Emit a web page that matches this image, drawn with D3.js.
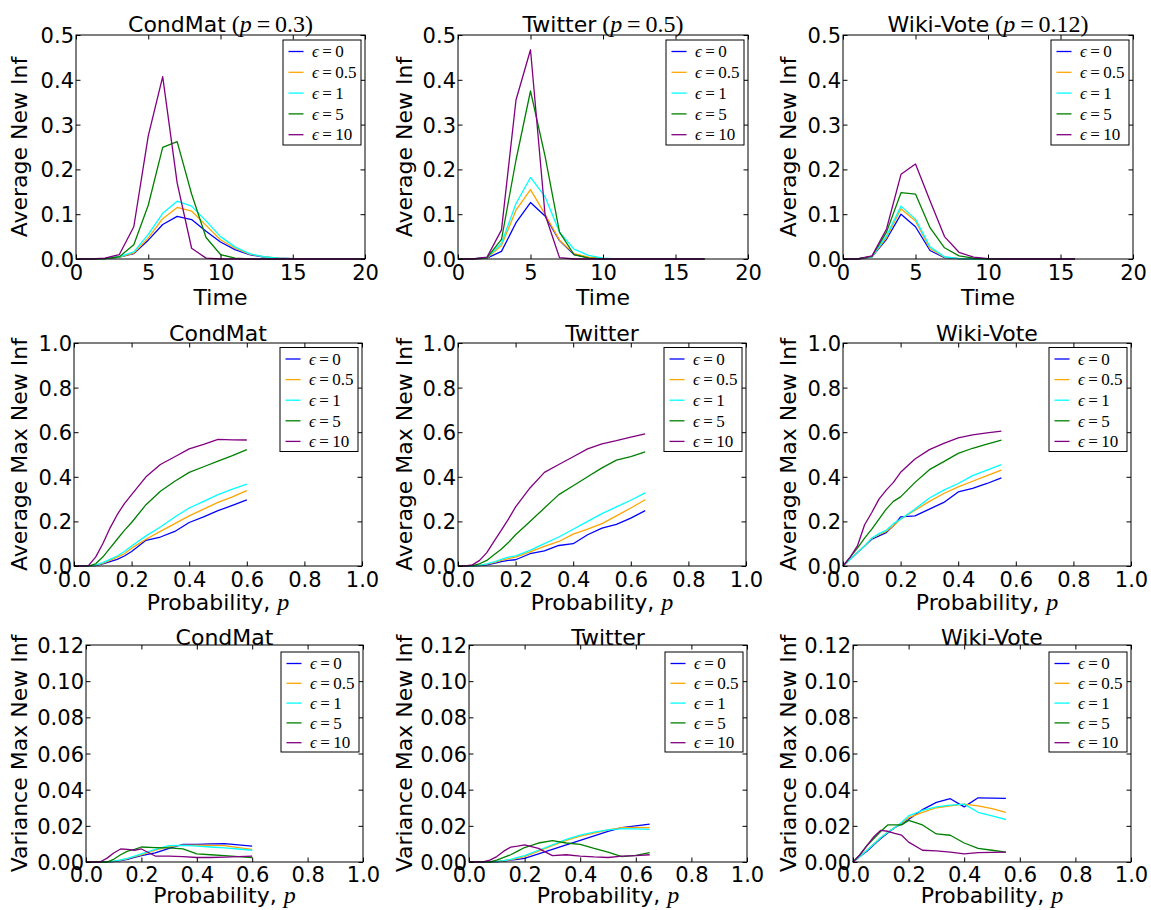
<!DOCTYPE html>
<html>
<head>
<meta charset="utf-8">
<script src="https://cdn.jsdelivr.net/npm/d3@7"></script>
<style>
  body { margin: 0; background: #fff; }
  svg { display: block; font-family: "DejaVu Sans", sans-serif; }
</style>
</head>
<body>
<svg id="chart" width="1151" height="910"></svg>
<script>
// ---------- data ----------
var epsLabels = ["0", "0.5", "1", "5", "10"];
var colours = ["#0000ff", "#ffa500", "#00ffff", "#008000", "#800080"];

var timeTicks = [0, 5, 10, 15, 20];
var probTicks = [0, 0.2, 0.4, 0.6, 0.8, 1.0];
var avgTicks = [0, 0.1, 0.2, 0.3, 0.4, 0.5];
var maxTicks = [0, 0.2, 0.4, 0.6, 0.8, 1.0];
var varTicks = [0, 0.02, 0.04, 0.06, 0.08, 0.10, 0.12];

// time steps for the first row
var timeCondMat = [0,1,2,3,4,5,6,7,8,9,10,11,12,13,14,15,16,17,18,19,20];
var timeTwitter = [0,1,2,3,4,5,6,7,8,9,10,11,12,13,14,15,16,17];
var timeWiki    = [0,1,2,3,4,5,6,7,8,9,10,11,12,13,14,15,16];

// probability grids for rows 2 and 3
var probCondMat = [0,0.025,0.05,0.075,0.1,0.125,0.15,0.175,0.2,0.25,0.3,0.35,0.4,0.45,0.5,0.55,0.6];
var probTwitter = [0,0.025,0.05,0.075,0.1,0.125,0.15,0.175,0.2,0.25,0.3,0.35,0.4,0.45,0.5,0.55,0.6,0.65];
var probWiki    = [0,0.025,0.05,0.075,0.1,0.125,0.15,0.175,0.2,0.25,0.3,0.35,0.4,0.45,0.5,0.55];

// average new infections over time (eps = 0, 0.5, 1, 5, 10)
var condMatNewInf = [
  [0,0,0.001,0.004,0.012,0.042,0.077,0.095,0.088,0.062,0.038,0.021,0.010,0.004,0.002,0.001,0,0,0,0,0],
  [0,0,0.001,0.004,0.013,0.047,0.090,0.115,0.107,0.075,0.043,0.024,0.011,0.005,0.002,0.001,0,0,0,0,0],
  [0,0,0.001,0.005,0.016,0.055,0.102,0.129,0.118,0.085,0.050,0.027,0.012,0.005,0.002,0.001,0,0,0,0,0],
  [0,0,0.001,0.005,0.032,0.120,0.249,0.262,0.145,0.048,0.010,0.002,0,0,0,0,0,0,0,0,0],
  [0,0,0.002,0.010,0.072,0.275,0.407,0.170,0.024,0.002,0,0,0,0,0,0,0,0,0,0,0]
];
var twitterNewInf = [
  [0,0,0.002,0.017,0.081,0.126,0.096,0.041,0.010,0.003,0.001,0,0,0,0,0,0,0],
  [0,0,0.002,0.030,0.109,0.155,0.100,0.042,0.012,0.004,0.001,0,0,0,0,0,0,0],
  [0,0,0.003,0.035,0.124,0.182,0.139,0.060,0.022,0.008,0.002,0,0,0,0,0,0,0],
  [0,0,0.003,0.044,0.221,0.375,0.230,0.060,0.010,0.002,0,0,0,0,0,0,0,0],
  [0,0,0.004,0.065,0.355,0.467,0.100,0.003,0,0,0,0,0,0,0,0,0,0]
];
var wikiNewInf = [
  [0,0,0.005,0.044,0.100,0.072,0.019,0.003,0.001,0,0,0,0,0,0,0,0],
  [0,0,0.005,0.048,0.112,0.085,0.023,0.004,0.001,0,0,0,0,0,0,0,0],
  [0,0,0.005,0.052,0.118,0.089,0.027,0.005,0.001,0,0,0,0,0,0,0,0],
  [0,0,0.006,0.060,0.148,0.145,0.070,0.025,0.007,0.002,0,0,0,0,0,0,0],
  [0,0,0.007,0.067,0.189,0.212,0.130,0.050,0.015,0.004,0.001,0,0,0,0,0,0]
];

// average max new infections vs p
var condMatMax = [
  [0,0,0,0.002,0.010,0.020,0.030,0.045,0.065,0.115,0.130,0.155,0.195,0.220,0.248,0.272,0.297],
  [0,0,0,0.003,0.012,0.025,0.040,0.055,0.080,0.120,0.155,0.190,0.225,0.255,0.285,0.310,0.338],
  [0,0,0,0.004,0.015,0.030,0.045,0.065,0.090,0.135,0.175,0.220,0.260,0.290,0.320,0.345,0.367],
  [0,0,0,0.010,0.040,0.080,0.120,0.160,0.195,0.275,0.335,0.380,0.420,0.445,0.470,0.495,0.522],
  [0,0,0.002,0.040,0.100,0.170,0.230,0.280,0.320,0.400,0.455,0.490,0.525,0.545,0.568,0.566,0.565]
];
var twitterMax = [
  [0,0,0,0.002,0.005,0.012,0.020,0.025,0.028,0.055,0.068,0.092,0.100,0.140,0.170,0.187,0.215,0.248],
  [0,0,0,0.003,0.008,0.015,0.025,0.033,0.040,0.063,0.088,0.110,0.143,0.165,0.190,0.225,0.260,0.297],
  [0,0,0,0.003,0.010,0.018,0.030,0.040,0.045,0.070,0.100,0.130,0.165,0.200,0.235,0.265,0.295,0.328],
  [0,0,0.002,0.010,0.025,0.050,0.075,0.105,0.140,0.200,0.260,0.320,0.360,0.400,0.440,0.475,0.490,0.512],
  [0,0,0.005,0.025,0.060,0.110,0.160,0.210,0.265,0.350,0.420,0.455,0.490,0.525,0.548,0.562,0.578,0.593]
];
var wikiMax = [
  [0,0.030,0.060,0.090,0.120,0.135,0.150,0.180,0.220,0.225,0.255,0.285,0.332,0.348,0.370,0.395],
  [0,0.030,0.060,0.090,0.125,0.140,0.155,0.180,0.210,0.250,0.290,0.325,0.355,0.380,0.405,0.430],
  [0,0.030,0.060,0.090,0.125,0.145,0.160,0.190,0.210,0.255,0.305,0.340,0.370,0.405,0.430,0.455],
  [0,0.040,0.080,0.125,0.165,0.210,0.255,0.290,0.310,0.375,0.432,0.468,0.505,0.528,0.547,0.565],
  [0,0.040,0.090,0.185,0.240,0.300,0.340,0.375,0.420,0.480,0.522,0.550,0.575,0.588,0.597,0.605]
];

// variance of max new infections vs p
var condMatVar = [
  [0,0,0,0,0.0002,0.0008,0.0015,0.0025,0.0035,0.0050,0.0075,0.0098,0.0098,0.0100,0.0102,0.0095,0.0088],
  [0,0,0,0,0.0003,0.0010,0.0018,0.0030,0.0040,0.0065,0.0085,0.0093,0.0093,0.0092,0.0090,0.0080,0.0070],
  [0,0,0,0,0.0005,0.0012,0.0020,0.0032,0.0045,0.0070,0.0090,0.0092,0.0088,0.0083,0.0078,0.0072,0.0065],
  [0,0,0,0,0.0015,0.0040,0.0060,0.0070,0.0083,0.0080,0.0078,0.0073,0.0045,0.0040,0.0035,0.0030,0.0025],
  [0,0,0,0.0020,0.0050,0.0072,0.0070,0.0065,0.0072,0.0033,0.0033,0.0030,0.0025,0.0025,0.0027,0.0030,0.0033]
];
var twitterVar = [
  [0,0,0,0,0.0001,0.0005,0.0010,0.0015,0.0020,0.0045,0.0070,0.0095,0.0120,0.0145,0.0170,0.0190,0.0200,0.0210],
  [0,0,0,0,0.0002,0.0007,0.0012,0.0020,0.0030,0.0060,0.0090,0.0120,0.0143,0.0160,0.0178,0.0190,0.0192,0.0190],
  [0,0,0,0,0.0003,0.0008,0.0015,0.0025,0.0035,0.0065,0.0095,0.0125,0.0148,0.0165,0.0178,0.0185,0.0183,0.0180],
  [0,0,0,0,0.0010,0.0025,0.0040,0.0060,0.0080,0.0105,0.0118,0.0105,0.0098,0.0075,0.0055,0.0030,0.0037,0.0052],
  [0,0,0,0.0010,0.0030,0.0060,0.0082,0.0088,0.0095,0.0075,0.0035,0.0040,0.0033,0.0028,0.0025,0.0033,0.0035,0.0040]
];
var wikiVar = [
  [0,0.0030,0.0060,0.0095,0.0130,0.0160,0.0190,0.0210,0.0235,0.0290,0.0330,0.0350,0.0305,0.0355,0.0353,0.0352],
  [0,0.0030,0.0065,0.0100,0.0135,0.0165,0.0190,0.0215,0.0245,0.0275,0.0300,0.0310,0.0320,0.0310,0.0295,0.0275],
  [0,0.0030,0.0065,0.0100,0.0135,0.0165,0.0190,0.0220,0.0255,0.0285,0.0305,0.0315,0.0320,0.0275,0.0255,0.0235],
  [0,0.0040,0.0090,0.0130,0.0170,0.0205,0.0205,0.0205,0.0230,0.0205,0.0155,0.0148,0.0105,0.0075,0.0065,0.0055],
  [0,0.0040,0.0090,0.0140,0.0175,0.0170,0.0158,0.0148,0.0110,0.0065,0.0062,0.0055,0.0045,0.0052,0.0053,0.0055]
];

// ---------- layout ----------
var rows = [
  {top: 35, bottom: 259, lefts: [76, 458, 843], rights: [365, 748, 1133],
   xDomain: [0, 20], xTicks: timeTicks, xFmt: d3.format("d"),
   yDomain: [0, 0.5], yTicks: avgTicks, yFmt: d3.format(".1f"),
   yLabel: "Average New Inf", xLabel: "Time", xMath: null,
   titleGap: 3, tickGap: 21, xLabelGap: 45.5, legTop: 5, legSpacing: 20.8},
  {top: 343, bottom: 566, lefts: [74, 458, 843], rights: [362, 746, 1131],
   xDomain: [0, 1], xTicks: probTicks, xFmt: d3.format(".1f"),
   yDomain: [0, 1], yTicks: maxTicks, yFmt: d3.format(".1f"),
   yLabel: "Average Max New Inf", xLabel: "Probability, ", xMath: "p",
   titleGap: 2.5, tickGap: 20.5, xLabelGap: 43.5, legTop: 4.5, legSpacing: 20.6},
  {top: 645, bottom: 862, lefts: [86, 469, 853], rights: [363, 747, 1131],
   xDomain: [0, 1], xTicks: probTicks, xFmt: d3.format(".1f"),
   yDomain: [0, 0.12], yTicks: varTicks, yFmt: d3.format(".2f"),
   yLabel: "Variance Max New Inf", xLabel: "Probability, ", xMath: "p",
   titleGap: 0.5, tickGap: 20, xLabelGap: 40.5, legTop: 7, legSpacing: 19.8}
];
var yLabelX = [27, 412, 796];

var panels = [
  {row: 0, col: 0, name: "CondMat",   param: "0.3",  xs: timeCondMat, series: condMatNewInf},
  {row: 0, col: 1, name: "Twitter",   param: "0.5",  xs: timeTwitter, series: twitterNewInf},
  {row: 0, col: 2, name: "Wiki-Vote", param: "0.12", xs: timeWiki,    series: wikiNewInf},
  {row: 1, col: 0, name: "CondMat",   param: null,   xs: probCondMat, series: condMatMax},
  {row: 1, col: 1, name: "Twitter",   param: null,   xs: probTwitter, series: twitterMax},
  {row: 1, col: 2, name: "Wiki-Vote", param: null,   xs: probWiki,    series: wikiMax},
  {row: 2, col: 0, name: "CondMat",   param: null,   xs: probCondMat, series: condMatVar},
  {row: 2, col: 1, name: "Twitter",   param: null,   xs: probTwitter, series: twitterVar},
  {row: 2, col: 2, name: "Wiki-Vote", param: null,   xs: probWiki,    series: wikiVar}
];

var svg = d3.select("#chart");
var serif = "'Liberation Serif', 'DejaVu Serif', serif";
var tickLen = 4.5;

panels.forEach(function(p) {
  var r = rows[p.row];
  var left = r.lefts[p.col], right = r.rights[p.col];
  var w = right - left, h = r.bottom - r.top;

  var x = d3.scaleLinear().domain(r.xDomain).range([0, w]),
      y = d3.scaleLinear().domain(r.yDomain).range([h, 0]);

  var g = svg.append("g")
      .attr("transform", "translate(" + left + "," + r.top + ")");

  // lines
  var line = d3.line()
      .x(function(d, i) { return x(p.xs[i]); })
      .y(function(d) { return y(d); });

  g.selectAll(".series")
    .data(p.series)
    .enter().append("path")
      .attr("fill", "none")
      .attr("stroke", function(d, i) { return colours[i]; })
      .attr("stroke-width", 1.3)
      .attr("stroke-linejoin", "round")
      .attr("d", line);

  // axes, ticks pointing inward on all four sides
  var bottomAxis = g.append("g")
      .attr("transform", "translate(0," + h + ")")
      .call(d3.axisBottom(x).tickValues(r.xTicks).tickFormat(r.xFmt).tickSizeInner(-tickLen).tickSizeOuter(0));
  bottomAxis.selectAll("text").attr("y", r.tickGap).attr("dy", null);

  var leftAxis = g.append("g")
      .call(d3.axisLeft(y).tickValues(r.yTicks).tickFormat(r.yFmt).tickSizeInner(-tickLen).tickSizeOuter(0));
  leftAxis.selectAll("text").attr("x", -2).attr("dy", "0.36em");

  g.append("g")
      .call(d3.axisTop(x).tickValues(r.xTicks).tickFormat("").tickSizeInner(-tickLen).tickSizeOuter(0));
  g.append("g")
      .attr("transform", "translate(" + w + ",0)")
      .call(d3.axisRight(y).tickValues(r.yTicks).tickFormat("").tickSizeInner(-tickLen).tickSizeOuter(0));

  g.selectAll(".domain").remove();
  g.selectAll(".tick line").attr("stroke", "#000").attr("stroke-width", 1);
  g.selectAll(".tick text")
      .attr("fill", "#000")
      .style("font-size", "21px")
      .style("font-family", "'DejaVu Sans', sans-serif");

  // frame
  g.append("rect")
      .attr("width", w)
      .attr("height", h)
      .attr("fill", "none")
      .attr("stroke", "#000")
      .attr("stroke-width", 1);

  // title
  var title = g.append("text")
      .attr("x", w / 2)
      .attr("y", -r.titleGap)
      .attr("text-anchor", "middle")
      .style("font-size", "22px")
      .text(p.name);
  if (p.param) {
    title.append("tspan").attr("font-family", serif).style("font-size", "24px").text(" (");
    title.append("tspan").attr("font-family", serif).style("font-size", "24px").attr("font-style", "italic").text("p");
    title.append("tspan").attr("font-family", serif).style("font-size", "24px").text("\u2009=\u2009" + p.param + ")");
  }

  // x label
  var xl = g.append("text")
      .attr("x", w / 2)
      .attr("y", h + r.xLabelGap)
      .attr("text-anchor", "middle")
      .style("font-size", "22px")
      .text(r.xLabel);
  if (r.xMath) {
    xl.append("tspan").attr("font-family", serif).style("font-size", "24px").attr("font-style", "italic").text(r.xMath);
  }

  // y label
  svg.append("text")
      .attr("transform", "translate(" + yLabelX[p.col] + "," + ((r.top + r.bottom) / 2) + ") rotate(-90)")
      .attr("text-anchor", "middle")
      .style("font-size", "22px")
      .text(r.yLabel);

  // legend
  var legH = r.legSpacing * 5 + 1;
  var legend = g.append("g")
      .attr("transform", "translate(" + (w - 82) + "," + r.legTop + ")");

  legend.append("rect")
      .attr("width", 78)
      .attr("height", legH)
      .attr("fill", "#fff")
      .attr("stroke", "#000")
      .attr("stroke-width", 1);

  var item = legend.selectAll(".item")
      .data(epsLabels)
      .enter().append("g")
      .attr("transform", function(d, i) { return "translate(0," + (11.5 + i * r.legSpacing) + ")"; });

  item.append("line")
      .attr("x1", 5.5)
      .attr("x2", 20.5)
      .attr("stroke", function(d, i) { return colours[i]; })
      .attr("stroke-width", 1.3);

  var lt = item.append("text")
      .attr("x", 29)
      .attr("dy", "0.34em")
      .style("font-family", serif)
      .style("font-size", "17px");
  lt.append("tspan").attr("font-style", "italic").text("\u03F5");
  lt.append("tspan").text(function(d) { return "\u2009=\u2009" + d; });
});
</script>
</body>
</html>
